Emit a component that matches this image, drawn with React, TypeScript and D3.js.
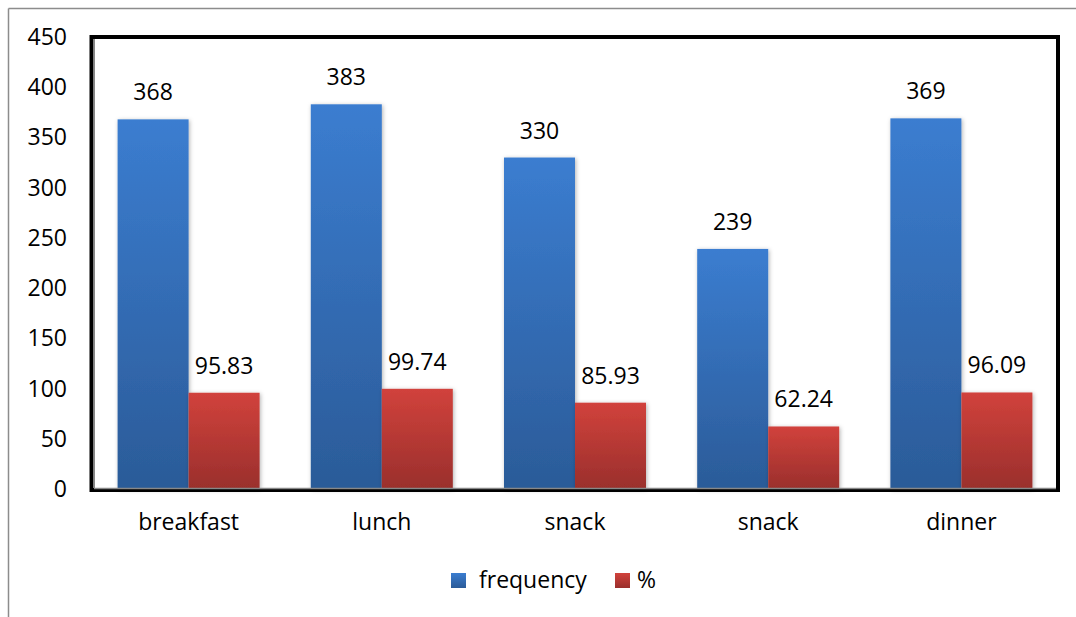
import React from 'react'
import * as d3 from 'd3'

const categories = ['breakfast', 'lunch', 'snack', 'snack', 'dinner']
const frequency = [368, 383, 330, 239, 369]
const percent = [95.83, 99.74, 85.93, 62.24, 96.09]
const seriesNames = ['frequency', '%']
const yTicks = [0, 50, 100, 150, 200, 250, 300, 350, 400, 450]

const W = 1076
const H = 617
const FONT = "'Open Sans', 'Noto Sans', sans-serif"
const FS = 23

export default function App() {
  const left = 92
  const right = 1058
  const top = 37
  const bottom = 489

  const x0 = d3.scaleBand<number>()
    .domain(d3.range(categories.length))
    .range([left, right])
    .paddingInner(0.265)
    .paddingOuter(0.1325)
  const x1 = d3.scaleBand<number>().domain([0, 1]).range([0, x0.bandwidth()])
  const y = d3.scaleLinear().domain([0, 450]).range([bottom, top])

  const rows = categories.map((c, i) => ({ c, vals: [frequency[i], percent[i]] }))
  const fills = ['url(#gBlue)', 'url(#gRed)']

  return (
    <svg width={W} height={H} style={{ position: 'absolute', left: 0, top: 0, background: '#fff' }}>
      <defs>
        <linearGradient id="gBlue" x1="0" y1="0" x2="0" y2="1">
          <stop offset="0" stopColor="#3b7dd0" />
          <stop offset="1" stopColor="#2b5b98" />
        </linearGradient>
        <linearGradient id="gRed" x1="0" y1="0" x2="0" y2="1">
          <stop offset="0" stopColor="#d1423c" />
          <stop offset="1" stopColor="#9a2f2c" />
        </linearGradient>
        <filter id="shadow" x="-20%" y="-20%" width="140%" height="140%">
          <feDropShadow dx="1" dy="1" stdDeviation="2" floodColor="#000" floodOpacity="0.3" />
        </filter>
      </defs>

      {/* outer chart border */}
      <line x1={8.5} y1={8.5} x2={W} y2={8.5} stroke="#8c8c8c" strokeWidth={1.5} />
      <line x1={8.5} y1={8.5} x2={8.5} y2={H} stroke="#8c8c8c" strokeWidth={1.5} />

      {/* bars */}
      {rows.map((r, i) => (
        <g key={i} transform={`translate(${x0(i)},0)`}>
          {r.vals.map((v, j) => (
            <g key={j}>
              <rect x={x1(j)} y={y(v)} width={x1.bandwidth()} height={bottom - y(v)}
                fill={fills[j]} filter="url(#shadow)" />
              <text x={(x1(j) as number) + x1.bandwidth() / 2} y={y(v) - 19}
                textAnchor="middle" fontFamily={FONT} fontSize={FS} fill="#000">
                {v.toFixed(j === 0 ? 0 : 2)}
              </text>
            </g>
          ))}
        </g>
      ))}

      {/* plot frame */}
      <rect x={left - 0.5} y={top} width={right - left + 0.5} height={bottom - top + 1}
        fill="none" stroke="#000" strokeWidth={4} />
      <line x1={left + 2} y1={bottom - 0.5} x2={right - 2} y2={bottom - 0.5} stroke="#888" strokeWidth={1.5} />
      <line x1={left + 2.5} y1={top + 2} x2={left + 2.5} y2={bottom} stroke="#888" strokeWidth={1} />

      {/* y axis labels */}
      {yTicks.map(t => (
        <text key={t} x={67} y={y(t)} dy="0.35em" textAnchor="end" fontFamily={FONT} fontSize={FS} fill="#000">
          {t}
        </text>
      ))}

      {/* x axis labels */}
      {categories.map((c, i) => (
        <text key={i} x={(x0(i) as number) + x0.bandwidth() / 2} y={522} dy="0.35em" textAnchor="middle"
          fontFamily={FONT} fontSize={FS} fill="#000">
          {c}
        </text>
      ))}

      {/* legend */}
      <g>
        <rect x={451} y={573} width={15} height={15} fill="url(#gBlue)" />
        <text x={479} y={580} dy="0.35em" fontFamily={FONT} fontSize={FS} fill="#000">{seriesNames[0]}</text>
        <rect x={615} y={573} width={15} height={15} fill="url(#gRed)" />
        <text x={637} y={580} dy="0.35em" fontFamily={FONT} fontSize={FS} fill="#000">{seriesNames[1]}</text>
      </g>
    </svg>
  )
}
